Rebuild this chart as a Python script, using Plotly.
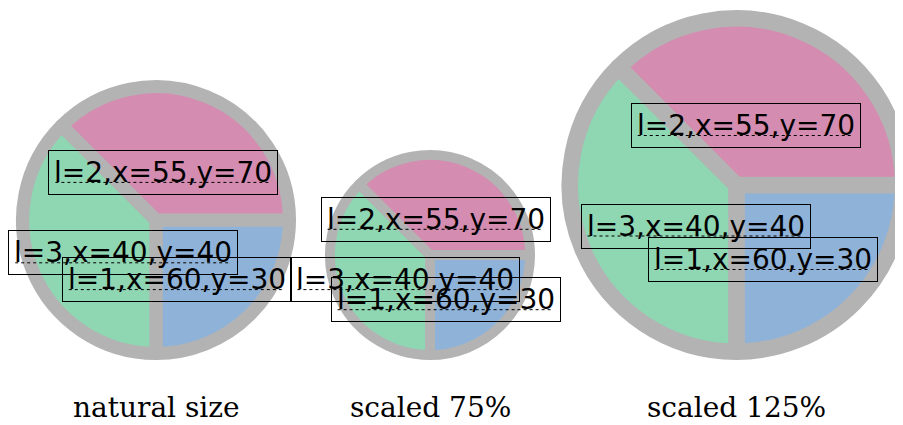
import plotly.graph_objects as go

# window and page offset (default body margin of the html page)
WIN_W, WIN_H = 903, 425
OFF = 8
W, H = WIN_W - OFF, WIN_H - OFF

# slice data (clockwise from 3 o'clock)
slice_names = ["blue", "green", "pink"]
slice_values = [25, 37.5, 37.5]
slice_colors = ["#8fb3d8", "#8fd6b3", "#d48cb1"]

# label data
label_l = [1, 2, 3]
label_x = [60, 55, 40]
label_y = [30, 70, 40]

# panels
panel_titles = ["natural size", "scaled 75%", "scaled 125%"]
panel_scales = [1.0, 0.75, 1.25]
panel_cx = [156, 430, 736.5]   # window pixels

BASE_R = 140.0     # visible radius at natural size
BASE_LW = 13.2     # border width at natural size
BASE_BOX = 268.0   # label box size at natural size
BOTTOM = 360.0     # window pixels
TITLE_Y = 407.0    # window pixels


def clamp(v):
    return max(0.0, min(1.0, v))


def px2x(px):
    return (px - OFF) / W


def py2y(py):
    return 1 - (py - OFF) / H


fig = go.Figure()
annotations = []
shapes = []

for title, s, cx in zip(panel_titles, panel_scales, panel_cx):
    rv = BASE_R * s
    lw = BASE_LW * s
    r = rv - lw / 2
    cy = BOTTOM - rv
    fig.add_trace(go.Pie(
        values=slice_values,
        labels=slice_names,
        marker=dict(colors=slice_colors, line=dict(color="#b3b3b3", width=lw)),
        sort=False, direction="clockwise", rotation=90,
        textinfo="none", hoverinfo="skip", showlegend=False,
        domain=dict(x=[clamp(px2x(cx - r)), clamp(px2x(cx + r))],
                    y=[clamp(py2y(cy + r)), clamp(py2y(cy - r))]),
    ))
    S = BASE_BOX * s
    left = cx - rv
    for l, x, y in zip(label_l, label_x, label_y):
        px = left + x / 100 * S
        py = BOTTOM - y / 100 * S
        annotations.append(dict(
            text=f"l={l},x={x},y={y}",
            x=px2x(px), y=py2y(py), xref="paper", yref="paper",
            xanchor="center", yanchor="middle", showarrow=False,
            font=dict(family="DejaVu Sans", size=28, color="black"),
            bordercolor="black", borderwidth=1, borderpad=5,
        ))
        shapes.append(dict(
            type="line", xref="paper", yref="paper",
            x0=px2x(px - 108), x1=px2x(px + 108),
            y0=py2y(py + 10), y1=py2y(py + 10),
            line=dict(color="black", width=1, dash="dot"),
        ))
    annotations.append(dict(
        text=title, x=px2x(cx), y=py2y(TITLE_Y), xref="paper", yref="paper",
        xanchor="center", yanchor="middle", showarrow=False,
        font=dict(family="DejaVu Serif", size=28, color="black"),
        borderpad=0,
    ))

fig.update_layout(
    width=W, height=H,
    margin=dict(l=0, r=0, t=0, b=0),
    paper_bgcolor="white", plot_bgcolor="white",
    annotations=annotations,
    shapes=shapes,
)

fig.write_html("out.html")
